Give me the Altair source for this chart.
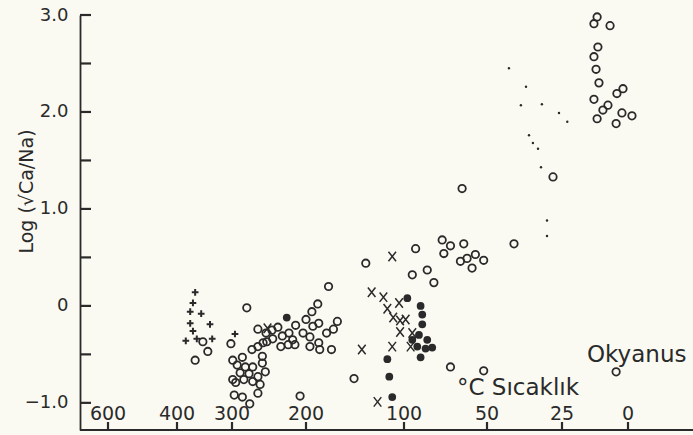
import altair as alt
import pandas as pd

# ---- data (temperature in °C, value = Log(sqrt(Ca)/Na)) ----
open_T = [353, 344, 367, 280, 265, 302, 299, 293, 286, 273, 265, 258, 282, 272, 259, 289, 277, 265, 255,
          299, 295, 284, 272, 262, 297, 286, 265, 276, 259,
          177, 188, 194, 200, 187, 168, 172, 179, 193, 214, 238, 246, 254, 223, 204, 196, 232, 245, 253,
          218, 224, 215, 234, 196, 187, 186, 174, 208,
          139, 93, 77, 72, 64, 76, 95, 86, 82, 66, 62, 57, 52, 59, 65, 41, 28, 151, 72, 52, 4.5,
          11.7, 12.9, 6.8, 11.4, 12.9, 12.1, 11.0, 1.9, 4.2, 12.9, 7.6, 9.5, 2.3, -1.5, 11.7, 4.5]
open_v = [-0.37, -0.47, -0.56, -0.02, -0.24, -0.39, -0.56, -0.61, -0.53, -0.45, -0.42, -0.38, -0.63, -0.63,
          -0.59, -0.69, -0.70, -0.73, -0.68, -0.76, -0.79, -0.76, -0.78, -0.81, -0.92, -0.94, -0.90, -1.01, -0.52,
          0.20, 0.02, -0.06, -0.14, -0.18, -0.16, -0.24, -0.28, -0.21, -0.20, -0.22, -0.25, -0.28, -0.28, -0.28,
          -0.32, -0.31, -0.34, -0.37, -0.35, -0.40, -0.40, -0.42, -0.42, -0.38, -0.45, -0.45, -0.93,
          0.44, 0.59, 0.68, 0.62, 0.64, 0.54, 0.32, 0.37, 0.24, 0.46, 0.49, 0.53, 0.47, 0.39, 1.21, 0.64, 1.33,
          -0.75, -0.63, -0.67, -0.68,
          2.98, 2.91, 2.89, 2.67, 2.57, 2.44, 2.30, 2.24, 2.19, 2.13, 2.07, 2.02, 1.99, 1.96, 1.93, 1.88]

filled_T = [98, 90, 89, 89, 91, 86, 92, 87, 83, 90, 117, 115, 112, 95, 226]
filled_v = [0.08, 0.0, -0.09, -0.19, -0.30, -0.35, -0.42, -0.44, -0.43, -0.53, -0.55, -0.73, -0.94, -0.35, -0.12]

cross_T = [112, 133, 121, 117, 105, 111, 104, 99, 104, 95, 143, 112, 96, 127, 252]
cross_v = [0.51, 0.14, 0.09, -0.03, 0.03, -0.12, -0.15, -0.14, -0.27, -0.28, -0.45, -0.42, -0.42, -0.99, -0.23]

plus_T = [367, 371, 376, 356, 376, 340, 371, 384, 364, 336, 296]
plus_v = [0.14, 0.03, -0.06, -0.08, -0.18, -0.19, -0.26, -0.36, -0.34, -0.34, -0.29]

dot_T = [42.7, 37, 38.7, 31.7, 26, 23, 36, 34.7, 33, 32, 30, 30]
dot_v = [2.45, 2.26, 2.07, 2.08, 1.99, 1.90, 1.76, 1.68, 1.62, 1.43, 0.88, 0.72]

x_ticks = [600, 400, 300, 200, 100, 50, 25, 0]
x_labels = ["600", "400", "300", "200", "100", "50", "25", "0"]
y_ticks = [3.0, 2.5, 2.0, 1.5, 1.0, 0.5, 0.0, -0.5, -1.0]
y_labels = [3.0, 2.0, 1.0, 0.0, -1.0]

y_title = "Log (√Ca/Na)"
annot_ocean = "Okyanus"
annot_temp = "°C  Sıcaklık"

# ---- styling ----
INK = "#2a2a2a"
FONT = "DejaVu Sans"
BG = "#fbfaf2"

# piecewise (non-linear) temperature axis as drawn in the original
xscale = alt.Scale(domain=[0, 25, 50, 100, 200, 300, 400, 600],
                   range=[548, 482, 407, 324, 226, 152, 97, 28], nice=False, zero=False)
yscale = alt.Scale(domain=[-1.28, 3.0], nice=False, zero=False)

yaxis = alt.Axis(title=y_title, values=y_labels, grid=False, ticks=False, domain=True,
                 domainColor=INK, domainWidth=1.8,
                 labelExpr="datum.value == 0 ? '0' : format(datum.value, '.1f')",
                 labelFont=FONT, labelFontSize=18, labelColor=INK, labelPadding=12,
                 titleFont=FONT, titleFontSize=19, titleFontWeight="normal", titleColor=INK,
                 titleAngle=270, titleX=-54, titleY=176, titleAlign="center", titleBaseline="middle")

def X():
    return alt.X("T:Q", scale=xscale, axis=None)

def Y():
    return alt.Y("v:Q", scale=yscale, axis=yaxis)

df_open = pd.DataFrame({"T": open_T, "v": open_v})
df_filled = pd.DataFrame({"T": filled_T, "v": filled_v})
df_cross = pd.DataFrame({"T": cross_T, "v": cross_v})
df_plus = pd.DataFrame({"T": plus_T, "v": plus_v})
df_dot = pd.DataFrame({"T": dot_T, "v": dot_v})
df_xt = pd.DataFrame({"T": x_ticks, "label": x_labels})
df_yt = pd.DataFrame({"v": y_ticks})

open_layer = alt.Chart(df_open).mark_point(
    shape="circle", filled=False, size=55, strokeWidth=1.8, color=INK, opacity=1
).encode(x=X(), y=Y())

filled_layer = alt.Chart(df_filled).mark_point(
    shape="circle", filled=True, size=60, color=INK, opacity=1
).encode(x=X(), y=Y())

cross_layer = alt.Chart(df_cross).mark_point(
    shape="M-0.8,-1L0.8,1M-0.8,1L0.8,-1", filled=False, size=90, strokeWidth=1.5, color=INK, opacity=1
).encode(x=X(), y=Y())

plus_layer = alt.Chart(df_plus).mark_point(
    shape="M-1,0L1,0M0,-1L0,1", filled=False, size=45, strokeWidth=2, color=INK, opacity=1
).encode(x=X(), y=Y())

dot_layer = alt.Chart(df_dot).mark_circle(size=6, color=INK, opacity=1).encode(x=X(), y=Y())

# bottom axis line across the full width
xline_layer = alt.Chart(pd.DataFrame({"k": [0]})).mark_rule(color=INK, strokeWidth=1.8).encode(
    x=alt.value(0), x2=alt.value(613), y=alt.value(415))

# inward tick marks
xtick_layer = alt.Chart(df_xt).mark_rule(color=INK, strokeWidth=2.2).encode(
    x=alt.X("T:Q", scale=xscale, axis=None), y=alt.value(415), y2=alt.value(407))

ytick_layer = alt.Chart(df_yt).mark_rule(color=INK, strokeWidth=2.2).encode(
    y=alt.Y("v:Q", scale=yscale, axis=yaxis), x=alt.value(0), x2=alt.value(11))

xlab_layer = alt.Chart(df_xt).mark_text(
    font=FONT, fontSize=19, color=INK, baseline="alphabetic", align="center"
).encode(x=X(), y=alt.value(405), text="label:N")

ocean_text = alt.Chart(pd.DataFrame({"t": [annot_ocean]})).mark_text(
    font=FONT, fontSize=23, color=INK, align="left", baseline="alphabetic"
).encode(text="t:N", x=alt.value(507), y=alt.value(347))

temp_text = alt.Chart(pd.DataFrame({"t": [annot_temp]})).mark_text(
    font=FONT, fontSize=23, color=INK, align="left", baseline="alphabetic"
).encode(text="t:N", x=alt.value(377), y=alt.value(380))

chart = alt.layer(
    open_layer, filled_layer, cross_layer, plus_layer, dot_layer, xlab_layer,
    ocean_text, temp_text, xline_layer, xtick_layer, ytick_layer
).properties(
    width=613, height=415,
    padding={"left": 80, "top": 15, "right": 0, "bottom": 5},
    autosize="none",
).configure(background=BG).configure_view(stroke=None)

chart.save("out.html", embed_options={"renderer": "svg", "actions": False})
